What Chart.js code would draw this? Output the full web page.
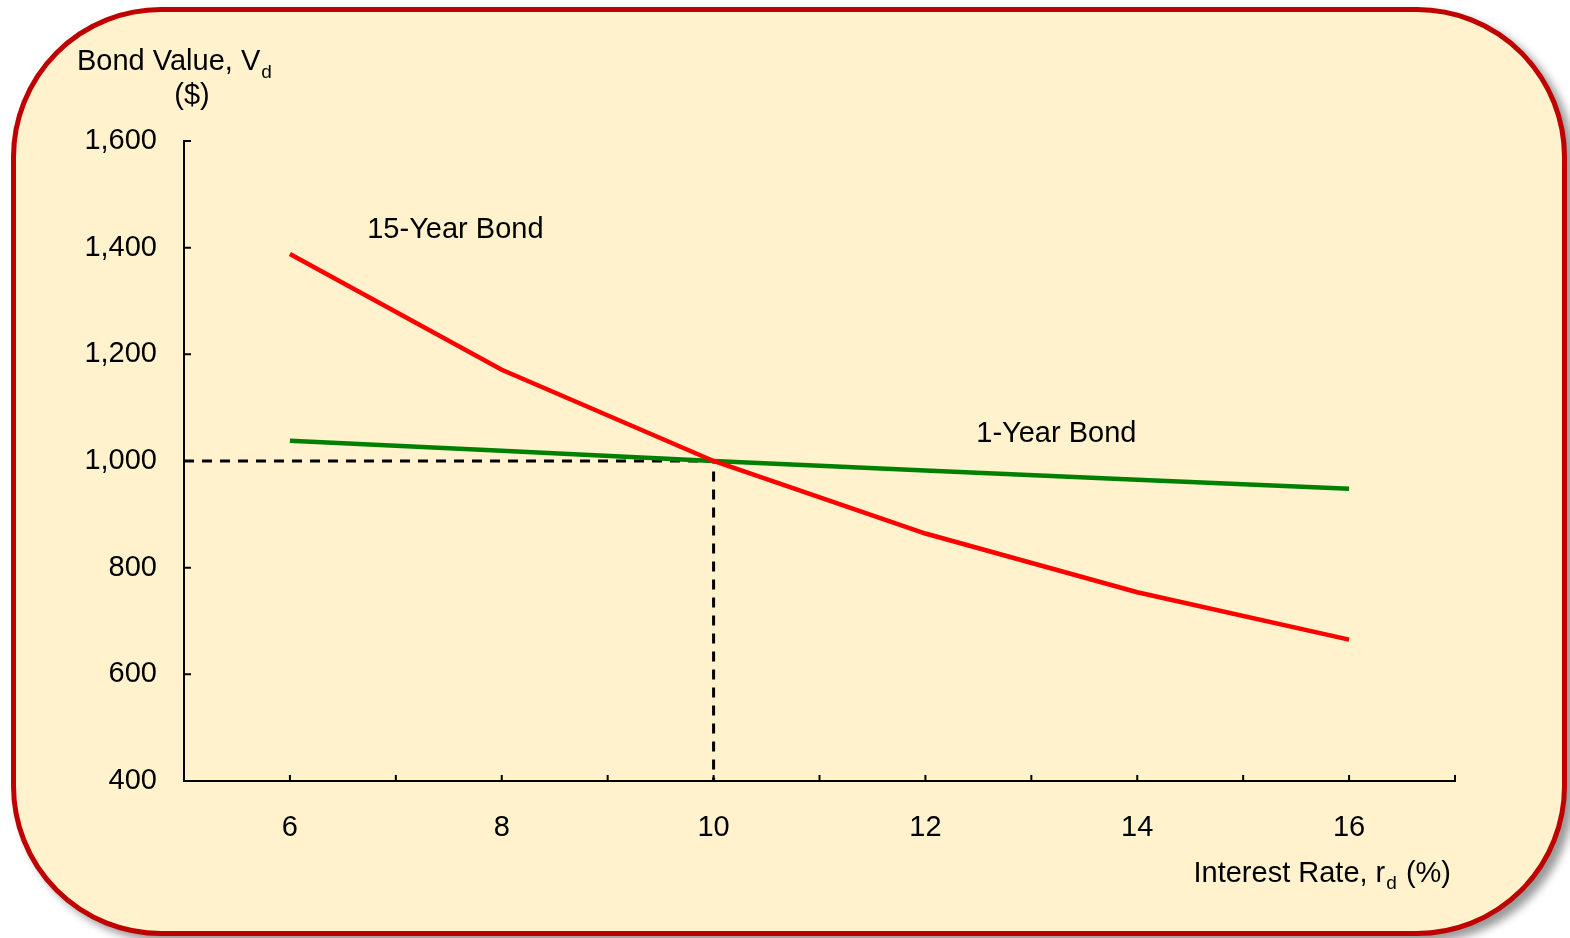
<!DOCTYPE html>
<html>
<head>
<meta charset="utf-8">
<script src="https://cdn.jsdelivr.net/npm/chart.js@4.4.1/dist/chart.umd.min.js"></script>
<style>
  body { margin: 0; background: #fff; }
  #wrap { position: relative; width: 1570px; height: 938px; overflow: hidden; }
  #box {
    position: absolute; left: 11px; top: 7px; width: 1556px; height: 929px;
    box-sizing: border-box; border: 5px solid #C00000; border-radius: 150px;
    background: #FFF2CC; box-shadow: 7px 6px 9px rgba(0,0,0,0.4);
  }
  #chart { position: absolute; left: 0; top: 0; }
</style>
</head>
<body>
<div id="wrap">
  <div id="box"></div>
  <canvas id="chart" width="1570" height="938"></canvas>
</div>
<script>
var rates = [6, 8, 10, 12, 14, 16];
var bond15 = [1388, 1171, 1000, 864, 754, 665];
var bond1 = [1038, 1019, 1000, 982, 965, 948];
var guide = [{x: 5, y: 1000}, {x: 10, y: 1000}, {x: 10, y: 400}];
var xLabels = [6, 8, 10, 12, 14, 16];

var FONT = "'Liberation Sans', Arial, sans-serif";
var FS = 29;

function toPoints(xs, ys) {
  return xs.map(function(x, i) { return {x: x, y: ys[i]}; });
}

// inside tick marks, series labels and axis titles
var extras = {
  id: 'extras',
  afterDraw: function(chart) {
    var ctx = chart.ctx, a = chart.chartArea;
    var xs = chart.scales.x, ys = chart.scales.y;
    ctx.save();
    ctx.strokeStyle = '#000';
    ctx.lineWidth = 2;
    ctx.beginPath();
    ys.ticks.forEach(function(t) {
      var py = ys.getPixelForValue(t.value);
      ctx.moveTo(a.left, py); ctx.lineTo(a.left + 7, py);
    });
    xs.ticks.forEach(function(t) {
      if (t.value <= 5) return;
      var px = xs.getPixelForValue(t.value);
      ctx.moveTo(px, a.bottom); ctx.lineTo(px, a.bottom - 6);
    });
    ctx.stroke();

    ctx.fillStyle = '#000';
    ctx.textBaseline = 'middle';
    ctx.textAlign = 'left';
    ctx.font = FS + 'px ' + FONT;
    ctx.fillText('15-Year Bond', xs.getPixelForValue(6.73), ys.getPixelForValue(1433));
    ctx.fillText('1-Year Bond', xs.getPixelForValue(12.48), ys.getPixelForValue(1051));

    // axis titles with subscripts
    ctx.textBaseline = 'alphabetic';
    var t1 = 'Bond Value, V';
    var x1 = a.left - 107, y1 = a.top - 71;
    ctx.font = FS + 'px ' + FONT;
    ctx.fillText(t1, x1, y1);
    var w1 = ctx.measureText(t1).width;
    ctx.font = '19px ' + FONT;
    ctx.fillText('d', x1 + w1 + 1, y1 + 8);
    ctx.font = FS + 'px ' + FONT;
    ctx.textAlign = 'center';
    ctx.fillText('($)', a.left + 8, a.top - 37);

    ctx.textAlign = 'left';
    var t2 = 'Interest Rate, r', t3 = ' (%)';
    ctx.font = FS + 'px ' + FONT;
    var w2 = ctx.measureText(t2).width, w4 = ctx.measureText(t3).width;
    ctx.font = '19px ' + FONT;
    var w3 = ctx.measureText('d').width;
    var x2 = a.right - 4 - (w2 + w3 + w4 + 2), y2 = a.bottom + 101;
    ctx.fillText('d', x2 + w2 + 1, y2 + 7);
    ctx.font = FS + 'px ' + FONT;
    ctx.fillText(t2, x2, y2);
    ctx.fillText(t3, x2 + w2 + w3 + 2, y2);
    ctx.restore();
  }
};

new Chart(document.getElementById('chart'), {
  type: 'scatter',
  data: {
    datasets: [{
      label: '15-Year Bond',
      data: toPoints(rates, bond15),
      showLine: true,
      borderColor: '#FF0000',
      borderWidth: 4.5,
      pointRadius: 0
    }, {
      label: '1-Year Bond',
      data: toPoints(rates, bond1),
      showLine: true,
      borderColor: '#008000',
      borderWidth: 4.5,
      pointRadius: 0
    }, {
      label: 'guide',
      data: guide,
      showLine: true,
      borderColor: '#000',
      borderWidth: 3,
      borderDash: [10, 8],
      pointRadius: 0,
      order: 5
    }]
  },
  options: {
    responsive: false,
    animation: false,
    layout: { padding: { left: 84, right: 115, top: 141, bottom: 57 } },
    plugins: { legend: { display: false }, tooltip: { enabled: false } },
    scales: {
      x: {
        type: 'linear', min: 5, max: 17,
        afterFit: function(s) { s.height = 100; },
        grid: { display: false, drawTicks: false },
        border: { display: true, color: '#000', width: 2 },
        ticks: {
          stepSize: 1, padding: 30, color: '#000',
          font: { family: FONT, size: FS },
          callback: function(v) { return xLabels.indexOf(v) >= 0 ? String(v) : ''; }
        }
      },
      y: {
        min: 400, max: 1600,
        afterFit: function(s) { s.width = 100; },
        grid: { display: false, drawTicks: false },
        border: { display: true, color: '#000', width: 2 },
        ticks: {
          stepSize: 200, padding: 27, color: '#000',
          font: { family: FONT, size: FS },
          callback: function(v) { return v.toLocaleString('en-US'); }
        }
      }
    }
  },
  plugins: [extras]
});
</script>
</body>
</html>
